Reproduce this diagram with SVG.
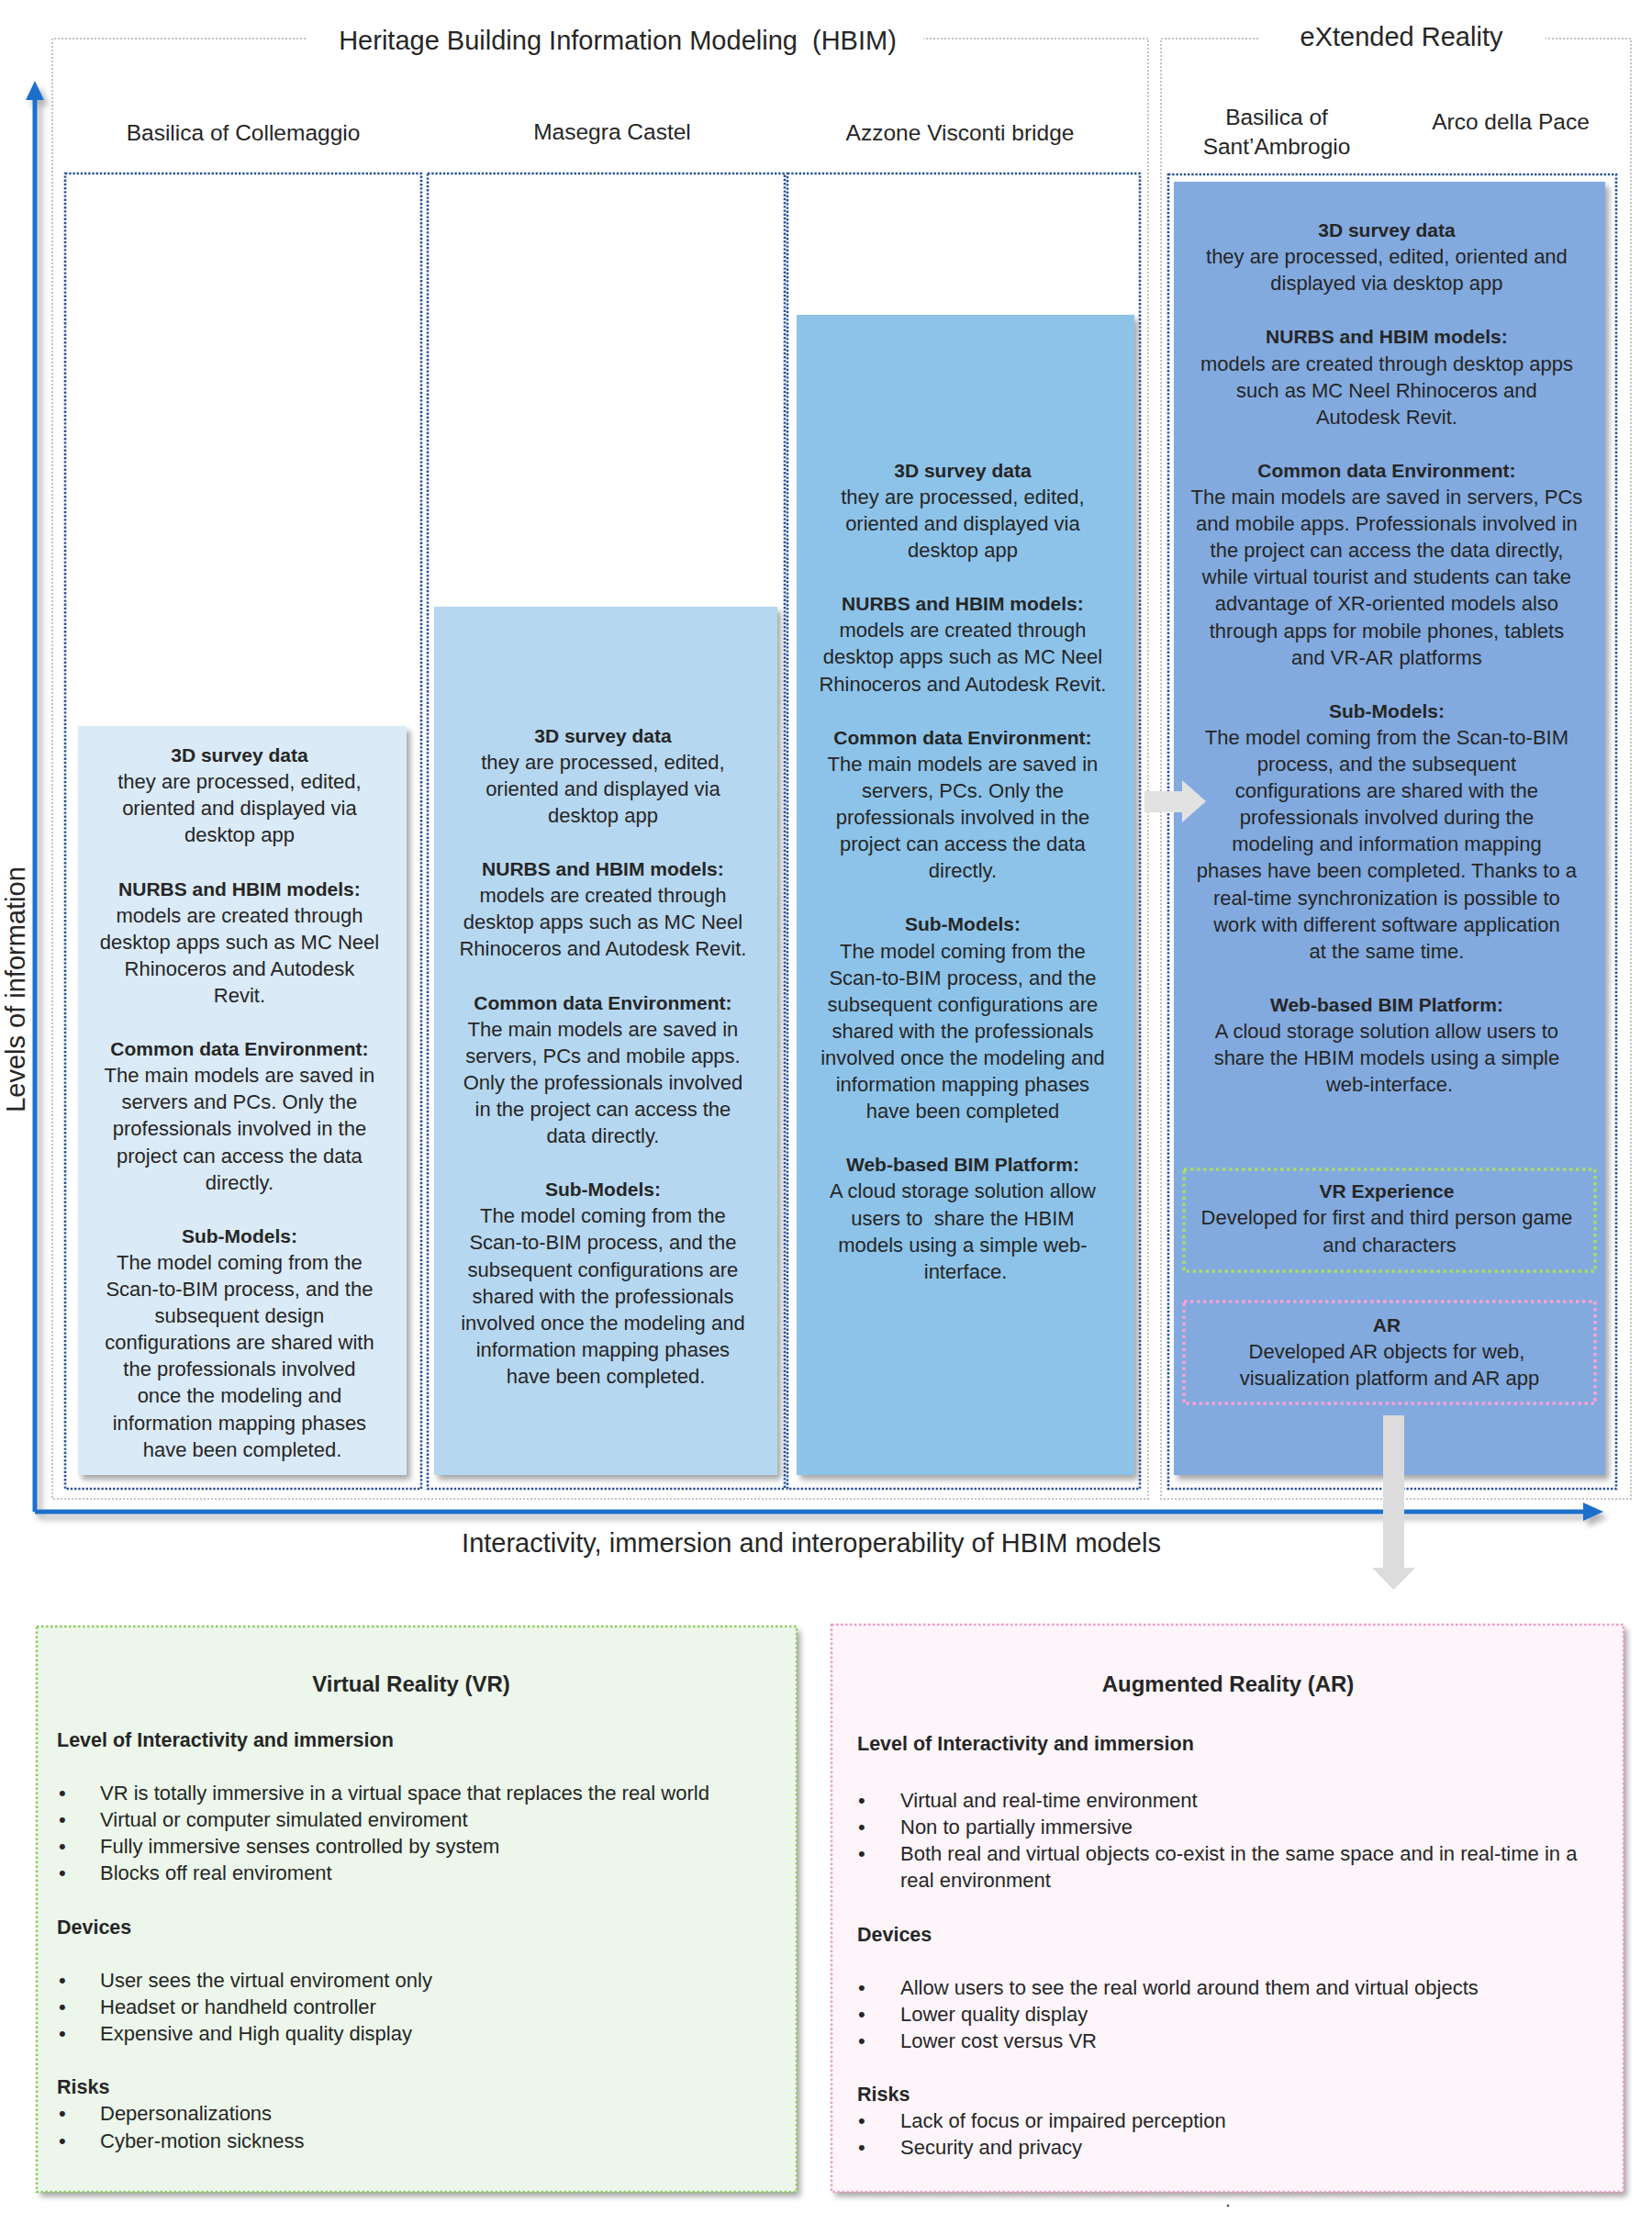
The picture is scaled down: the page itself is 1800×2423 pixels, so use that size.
<svg xmlns="http://www.w3.org/2000/svg" width="1800" height="2423" viewBox="0 0 1800 2423">
<defs>
<style>
text{font-family:'Liberation Sans',Arial,sans-serif;fill:#262626}
.ttl{font-size:29px}
.ch{font-size:24.5px;text-anchor:middle}
.body{font-size:22px;text-anchor:middle}
.bd{font-weight:bold;font-size:21px}
.frame{fill:none;stroke:#C3C3C3;stroke-width:2;stroke-dasharray:2 2}
.col{fill:none;stroke:#2A5298;stroke-width:2.6;stroke-dasharray:2.4 1.8}
.lst{font-size:22px}
.hd{font-size:21.5px;font-weight:bold}
</style>
<filter id="sh" x="-5%" y="-5%" width="112%" height="112%">
<feDropShadow dx="4" dy="5" stdDeviation="3" flood-color="#000" flood-opacity="0.35"/>
</filter>
<filter id="ash" x="-5%" y="-5%" width="115%" height="115%">
<feDropShadow dx="5" dy="6" stdDeviation="3" flood-color="#000" flood-opacity="0.3"/>
</filter>
</defs>
<rect width="1800" height="2423" fill="#fff"/>

<g id="hbim-frame">
<path class="frame" d="M333,42 H57 V1633 H1251 V42 H1006"/>
<text class="ttl" x="673" y="54" text-anchor="middle">Heritage Building Information Modeling&#160; (HBIM)</text>
</g>
<g id="xr-frame">
<path class="frame" d="M1371,42 H1265 V1633 H1777 V42 H1684"/>
<text class="ttl" x="1527" y="50" text-anchor="middle">eXtended Reality</text>
</g>

<g id="headers">
<text class="ch" x="265" y="153">Basilica of Collemaggio</text>
<text class="ch" x="667" y="152">Masegra Castel</text>
<text class="ch" x="1046" y="153">Azzone Visconti bridge</text>
<text class="ch" x="1391" y="136">Basilica of</text>
<text class="ch" x="1391" y="168">Sant’Ambrogio</text>
<text class="ch" x="1646" y="141">Arco della Pace</text>
</g>

<g id="col1">
<rect x="85" y="791" width="358" height="816" fill="#DAEAF6" filter="url(#sh)"/>
<rect class="col" x="71" y="189" width="388" height="1433"/>
<text class="body">
<tspan class="bd" x="264" y="830">3D survey data</tspan>
<tspan x="264" y="859.1">they are processed, edited,</tspan>
<tspan x="264" y="888.2">oriented and displayed via</tspan>
<tspan x="264" y="917.3">desktop app</tspan>
<tspan class="bd" x="264" y="975.5">NURBS and HBIM models:</tspan>
<tspan x="264" y="1004.6">models are created through</tspan>
<tspan x="264" y="1033.7">desktop apps such as MC Neel</tspan>
<tspan x="264" y="1062.8">Rhinoceros and Autodesk</tspan>
<tspan x="264" y="1091.9">Revit.</tspan>
<tspan class="bd" x="264" y="1150.1">Common data Environment:</tspan>
<tspan x="264" y="1179.2">The main models are saved in</tspan>
<tspan x="264" y="1208.3">servers and PCs. Only the</tspan>
<tspan x="264" y="1237.4">professionals involved in the</tspan>
<tspan x="264" y="1266.5">project can access the data</tspan>
<tspan x="264" y="1295.6">directly.</tspan>
<tspan class="bd" x="264" y="1353.8">Sub-Models:</tspan>
<tspan x="264" y="1382.9">The model coming from the</tspan>
<tspan x="264" y="1412">Scan-to-BIM process, and the</tspan>
<tspan x="264" y="1441.1">subsequent design</tspan>
<tspan x="264" y="1470.2">configurations are shared with</tspan>
<tspan x="264" y="1499.3">the professionals involved</tspan>
<tspan x="264" y="1528.4">once the modeling and</tspan>
<tspan x="264" y="1557.5">information mapping phases</tspan>
<tspan x="264" y="1586.6">have been completed.</tspan>
</text>
</g>

<g id="col2">
<rect x="473" y="661" width="374" height="946" fill="#B6D7F0" filter="url(#sh)"/>
<rect class="col" x="466" y="189" width="389" height="1433"/>
<text class="body">
<tspan class="bd" x="660" y="808.5">3D survey data</tspan>
<tspan x="660" y="837.6">they are processed, edited,</tspan>
<tspan x="660" y="866.7">oriented and displayed via</tspan>
<tspan x="660" y="895.8">desktop app</tspan>
<tspan class="bd" x="660" y="954">NURBS and HBIM models:</tspan>
<tspan x="660" y="983.1">models are created through</tspan>
<tspan x="660" y="1012.2">desktop apps such as MC Neel</tspan>
<tspan x="660" y="1041.3">Rhinoceros and Autodesk Revit.</tspan>
<tspan class="bd" x="660" y="1099.5">Common data Environment:</tspan>
<tspan x="660" y="1128.6">The main models are saved in</tspan>
<tspan x="660" y="1157.7">servers, PCs and mobile apps.</tspan>
<tspan x="660" y="1186.8">Only the professionals involved</tspan>
<tspan x="660" y="1215.9">in the project can access the</tspan>
<tspan x="660" y="1245">data directly.</tspan>
<tspan class="bd" x="660" y="1303.2">Sub-Models:</tspan>
<tspan x="660" y="1332.3">The model coming from the</tspan>
<tspan x="660" y="1361.4">Scan-to-BIM process, and the</tspan>
<tspan x="660" y="1390.5">subsequent configurations are</tspan>
<tspan x="660" y="1419.6">shared with the professionals</tspan>
<tspan x="660" y="1448.7">involved once the modeling and</tspan>
<tspan x="660" y="1477.8">information mapping phases</tspan>
<tspan x="660" y="1506.9">have been completed.</tspan>
</text>
</g>

<g id="col3">
<rect x="868" y="343" width="368" height="1264" fill="#8DC3E9" filter="url(#sh)"/>
<rect class="col" x="858" y="189" width="384" height="1433"/>
<text class="body">
<tspan class="bd" x="1052" y="519.7">3D survey data</tspan>
<tspan x="1052" y="548.8">they are processed, edited,</tspan>
<tspan x="1052" y="577.9">oriented and displayed via</tspan>
<tspan x="1052" y="607">desktop app</tspan>
<tspan class="bd" x="1052" y="665.2">NURBS and HBIM models:</tspan>
<tspan x="1052" y="694.3">models are created through</tspan>
<tspan x="1052" y="723.4">desktop apps such as MC Neel</tspan>
<tspan x="1052" y="752.5">Rhinoceros and Autodesk Revit.</tspan>
<tspan class="bd" x="1052" y="810.7">Common data Environment:</tspan>
<tspan x="1052" y="839.8">The main models are saved in</tspan>
<tspan x="1052" y="868.9">servers, PCs. Only the</tspan>
<tspan x="1052" y="898">professionals involved in the</tspan>
<tspan x="1052" y="927.1">project can access the data</tspan>
<tspan x="1052" y="956.2">directly.</tspan>
<tspan class="bd" x="1052" y="1014.4">Sub-Models:</tspan>
<tspan x="1052" y="1043.5">The model coming from the</tspan>
<tspan x="1052" y="1072.6">Scan-to-BIM process, and the</tspan>
<tspan x="1052" y="1101.7">subsequent configurations are</tspan>
<tspan x="1052" y="1130.8">shared with the professionals</tspan>
<tspan x="1052" y="1159.9">involved once the modeling and</tspan>
<tspan x="1052" y="1189">information mapping phases</tspan>
<tspan x="1052" y="1218.1">have been completed</tspan>
<tspan class="bd" x="1052" y="1276.3">Web-based BIM Platform:</tspan>
<tspan x="1052" y="1305.4">A cloud storage solution allow</tspan>
<tspan x="1052" y="1334.5">users to&#160; share the HBIM</tspan>
<tspan x="1052" y="1363.6">models using a simple web-</tspan>
<tspan x="1052" y="1392.7">interface.</tspan>
</text>
</g>

<g id="col4">
<rect x="1279" y="198" width="470" height="1409" fill="#82AADF" filter="url(#sh)"/>
<rect class="col" x="1273" y="190" width="488" height="1432"/>
<text class="body">
<tspan class="bd" x="1514" y="258">3D survey data</tspan>
<tspan x="1514" y="287.1">they are processed, edited, oriented and</tspan>
<tspan x="1514" y="316.2">displayed via desktop app</tspan>
<tspan class="bd" x="1514" y="374.4">NURBS and HBIM models:</tspan>
<tspan x="1514" y="403.5">models are created through desktop apps</tspan>
<tspan x="1514" y="432.6">such as MC Neel Rhinoceros and</tspan>
<tspan x="1514" y="461.7">Autodesk Revit.</tspan>
<tspan class="bd" x="1514" y="519.9">Common data Environment:</tspan>
<tspan x="1514" y="549">The main models are saved in servers, PCs</tspan>
<tspan x="1514" y="578.1">and mobile apps. Professionals involved in</tspan>
<tspan x="1514" y="607.2">the project can access the data directly,</tspan>
<tspan x="1514" y="636.3">while virtual tourist and students can take</tspan>
<tspan x="1514" y="665.4">advantage of XR-oriented models also</tspan>
<tspan x="1514" y="694.5">through apps for mobile phones, tablets</tspan>
<tspan x="1514" y="723.6">and VR-AR platforms</tspan>
<tspan class="bd" x="1514" y="781.8">Sub-Models:</tspan>
<tspan x="1514" y="810.9">The model coming from the Scan-to-BIM</tspan>
<tspan x="1514" y="840">process, and the subsequent</tspan>
<tspan x="1514" y="869.1">configurations are shared with the</tspan>
<tspan x="1514" y="898.2">professionals involved during the</tspan>
<tspan x="1514" y="927.3">modeling and information mapping</tspan>
<tspan x="1514" y="956.4">phases have been completed. Thanks to a</tspan>
<tspan x="1514" y="985.5">real-time synchronization is possible to</tspan>
<tspan x="1514" y="1014.6">work with different software application</tspan>
<tspan x="1514" y="1043.7">at the same time.</tspan>
<tspan class="bd" x="1514" y="1101.9">Web-based BIM Platform:</tspan>
<tspan x="1514" y="1131">A cloud storage solution allow users to</tspan>
<tspan x="1514" y="1160.1">share the HBIM models using a simple</tspan>
<tspan x="1514" y="1189.2">web-interface.</tspan>
</text>
</g>

<g id="vr-experience">
<rect x="1290" y="1274" width="448" height="111" fill="none" stroke="#A8DC6A" stroke-width="3.5" stroke-dasharray="3.5 3.5"/>
<text class="body">
<tspan class="bd" x="1514" y="1304.5">VR Experience</tspan>
<tspan x="1514" y="1334">Developed for first and third person game</tspan>
<tspan x="1514" y="1363.6">and characters</tspan>
</text>
</g>

<g id="ar-experience">
<rect x="1290" y="1418" width="448" height="111" fill="none" stroke="#F7A3D2" stroke-width="3.5" stroke-dasharray="3.5 3.5"/>
<text class="body">
<tspan class="bd" x="1514" y="1451">AR</tspan>
<tspan x="1514" y="1480">Developed AR objects for web,</tspan>
<tspan x="1514" y="1509">visualization platform and AR app</tspan>
</text>
</g>

<g id="axes" filter="url(#ash)">
<path d="M38,1647 V105 M38,1647 H1727" fill="none" stroke="#1F6FCB" stroke-width="5"/>
<polygon points="38,88 48,109 28,109" fill="#1F6FCB"/>
<polygon points="1747,1647 1725,1637 1725,1657" fill="#1F6FCB"/>
</g>
<text class="ttl" transform="translate(27,1078) rotate(-90)" text-anchor="middle">Levels of information</text>
<text class="ttl" x="884" y="1691" text-anchor="middle">Interactivity, immersion and interoperability of HBIM models</text>

<g id="connectors">
<polygon points="1247,862 1288,862 1288,850 1314,873 1288,896 1288,885 1247,885" fill="#E2E2E2"/>
<polygon points="1507,1542 1530,1542 1530,1708 1542,1708 1518.5,1732 1495,1708 1507,1708" fill="#DCDCDC"/>
</g>

<g id="vr-box">
<rect x="40" y="1772" width="828" height="616" fill="#ECF6EA" filter="url(#sh)"/>
<rect x="40" y="1772" width="828" height="616" fill="none" stroke="#8FCB5E" stroke-width="2.5" stroke-dasharray="2.5 2.5"/>
<text x="448" y="1843" text-anchor="middle" style="font-size:24px;font-weight:bold">Virtual Reality (VR)</text>
<text class="hd" x="62" y="1903">Level of Interactivity and immersion</text>
<text class="lst">
<tspan x="64" y="1960.7">•</tspan><tspan x="109" y="1960.7">VR is totally immersive in a virtual space that replaces the real world</tspan>
<tspan x="64" y="1989.7">•</tspan><tspan x="109" y="1989.7">Virtual or computer simulated enviroment</tspan>
<tspan x="64" y="2018.7">•</tspan><tspan x="109" y="2018.7">Fully immersive senses controlled by system</tspan>
<tspan x="64" y="2048">•</tspan><tspan x="109" y="2048">Blocks off real enviroment</tspan>
</text>
<text class="hd" x="62" y="2107">Devices</text>
<text class="lst">
<tspan x="64" y="2164.7">•</tspan><tspan x="109" y="2164.7">User sees the virtual enviroment only</tspan>
<tspan x="64" y="2193.7">•</tspan><tspan x="109" y="2193.7">Headset or handheld controller</tspan>
<tspan x="64" y="2223">•</tspan><tspan x="109" y="2223">Expensive and High quality display</tspan>
</text>
<text class="hd" x="62" y="2281">Risks</text>
<text class="lst">
<tspan x="64" y="2310">•</tspan><tspan x="109" y="2310">Depersonalizations</tspan>
<tspan x="64" y="2339.7">•</tspan><tspan x="109" y="2339.7">Cyber-motion sickness</tspan>
</text>
</g>

<g id="ar-box">
<rect x="906" y="1770" width="863" height="618" fill="#FDF5FA" filter="url(#sh)"/>
<rect x="906" y="1770" width="863" height="618" fill="none" stroke="#F29BCB" stroke-width="2.5" stroke-dasharray="2.5 2.5"/>
<text x="1338" y="1843" text-anchor="middle" style="font-size:24px;font-weight:bold">Augmented Reality (AR)</text>
<text class="hd" x="934" y="1907">Level of Interactivity and immersion</text>
<text class="lst">
<tspan x="935" y="1969">•</tspan><tspan x="981" y="1969">Virtual and real-time environment</tspan>
<tspan x="935" y="1998">•</tspan><tspan x="981" y="1998">Non to partially immersive</tspan>
<tspan x="935" y="2027">•</tspan><tspan x="981" y="2027">Both real and virtual objects co-exist in the same space and in real-time in a</tspan>
<tspan x="981" y="2056">real environment</tspan>
</text>
<text class="hd" x="934" y="2114.7">Devices</text>
<text class="lst">
<tspan x="935" y="2173">•</tspan><tspan x="981" y="2173">Allow users to see the real world around them and virtual objects</tspan>
<tspan x="935" y="2202">•</tspan><tspan x="981" y="2202">Lower quality display</tspan>
<tspan x="935" y="2230.7">•</tspan><tspan x="981" y="2230.7">Lower cost versus VR</tspan>
</text>
<text class="hd" x="934" y="2289">Risks</text>
<text class="lst">
<tspan x="935" y="2318">•</tspan><tspan x="981" y="2318">Lack of focus or impaired perception</tspan>
<tspan x="935" y="2347">•</tspan><tspan x="981" y="2347">Security and privacy</tspan>
</text>
</g>
<circle cx="1338" cy="2403" r="1.5" fill="#666"/>
</svg>
